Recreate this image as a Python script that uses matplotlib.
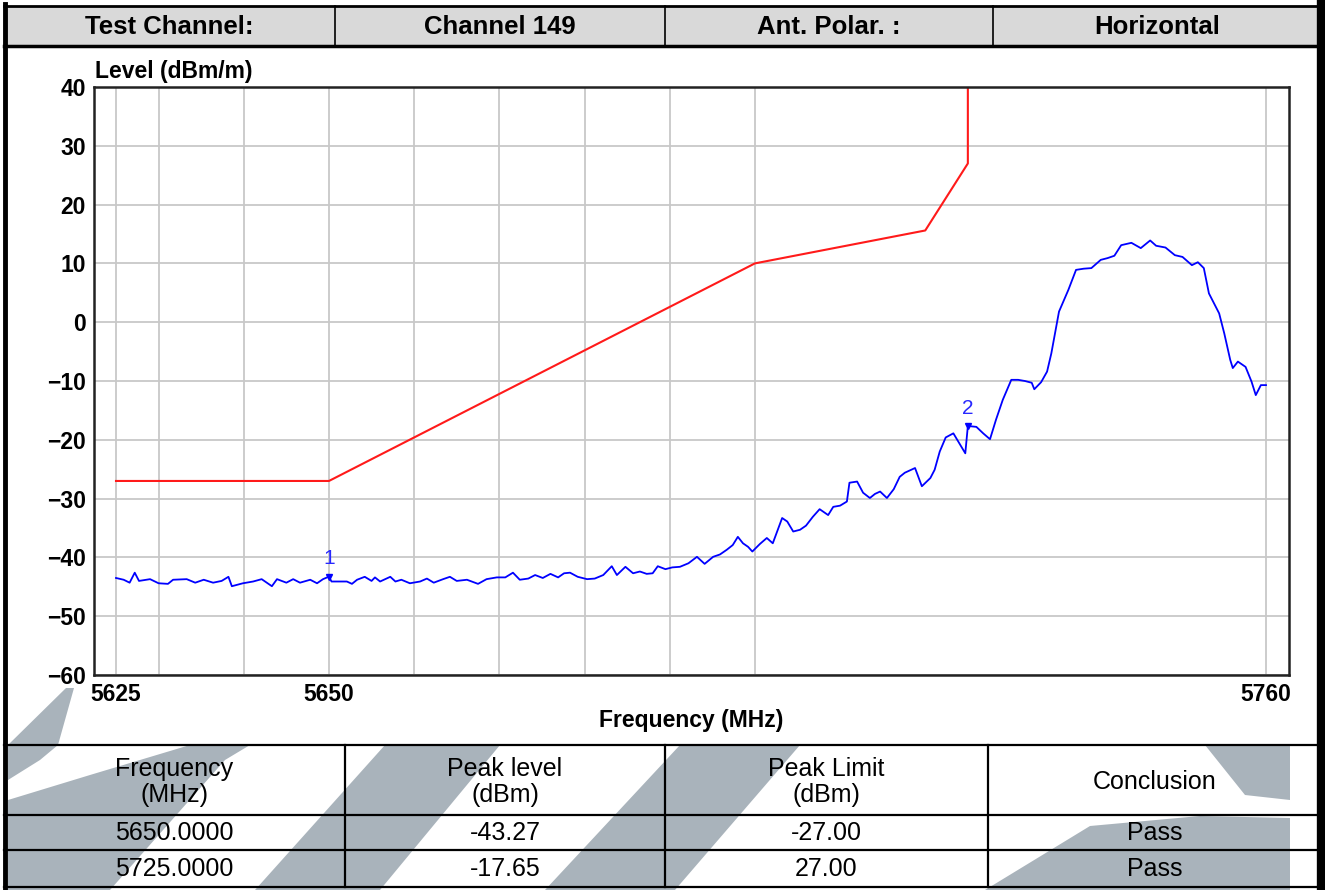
import matplotlib.pyplot as plt
from matplotlib.patches import Polygon, Rectangle

plt.rcParams['font.family'] = ['Liberation Sans', 'DejaVu Sans']

# header
header_cells = ['Test Channel:', 'Channel 149', 'Ant. Polar. :', 'Horizontal']

# limit line (dBm/m)
limit_freq = [5625, 5650, 5700, 5720, 5725, 5725]
limit_level = [-27, -27, 10, 15.6, 27, 40]

trace_freq = [5625.0, 5625.9, 5626.6, 5627.2, 5627.7, 5629.0, 5630.0, 5631.1, 5631.7, 5633.3,
              5634.3, 5635.3, 5636.4, 5637.4, 5638.2, 5638.6, 5639.9, 5641.1, 5642.1, 5643.3,
              5643.9, 5645.0, 5645.8, 5646.6, 5647.8, 5648.6, 5649.3, 5650.0, 5650.3, 5652.1,
              5652.7, 5653.3, 5654.2, 5655.0, 5655.4, 5656.0, 5657.2, 5657.8, 5658.5, 5659.5,
              5660.7, 5661.5, 5662.3, 5663.4, 5664.2, 5665.0, 5666.2, 5667.5, 5668.5, 5669.7,
              5670.7, 5671.6, 5672.4, 5673.4, 5674.2, 5675.1, 5676.0, 5676.9, 5677.6, 5678.3,
              5679.2, 5680.3, 5681.2, 5682.2, 5683.2, 5683.8, 5684.8, 5685.7, 5686.5, 5687.3,
              5688.0, 5688.6, 5689.5, 5690.3, 5691.2, 5692.2, 5693.2, 5694.1, 5695.1, 5695.9,
              5696.7, 5697.4, 5698.0, 5698.6, 5699.2, 5699.7, 5700.6, 5701.4, 5702.1, 5703.2,
              5703.8, 5704.5, 5705.3, 5706.0, 5706.8, 5707.6, 5708.6, 5709.2, 5710.0, 5710.8,
              5711.1, 5712.0, 5712.7, 5713.5, 5714.1, 5714.7, 5715.5, 5716.3, 5717.0, 5717.6,
              5718.8, 5719.6, 5720.6, 5721.1, 5721.7, 5722.4, 5723.3, 5724.0, 5724.7, 5725.0,
              5726.0, 5726.8, 5727.6, 5728.3, 5729.1, 5730.1, 5730.9, 5731.7, 5732.5, 5732.8,
              5733.6, 5734.3, 5734.8, 5735.7, 5736.8, 5737.7, 5738.6, 5739.5, 5740.6, 5741.4,
              5742.2, 5743.0, 5744.2, 5745.3, 5746.4, 5747.1, 5748.2, 5749.3, 5750.2, 5751.3,
              5752.0, 5752.7, 5753.3, 5754.5, 5755.1, 5755.8, 5756.1, 5756.7, 5757.6, 5758.3,
              5758.8, 5759.4, 5760.0]
trace_level = [-43.5, -43.8, -44.3, -42.6, -44.0, -43.7, -44.4, -44.5, -43.8, -43.7,
               -44.3, -43.8, -44.3, -44.0, -43.3, -44.9, -44.4, -44.1, -43.7, -44.9,
               -43.7, -44.3, -43.7, -44.3, -43.8, -44.4, -43.7, -43.27, -44.1, -44.1,
               -44.5, -43.8, -43.3, -44.0, -43.4, -44.1, -43.3, -44.1, -43.8, -44.4,
               -44.1, -43.6, -44.3, -43.7, -43.3, -44.0, -43.8, -44.5, -43.7, -43.4,
               -43.4, -42.6, -43.8, -43.6, -43.0, -43.5, -42.8, -43.4, -42.7, -42.6,
               -43.3, -43.7, -43.6, -43.0, -41.5, -43.0, -41.6, -42.7, -42.4, -42.8,
               -42.7, -41.5, -42.0, -41.7, -41.6, -41.0, -39.9, -41.1, -39.9, -39.5,
               -38.7, -37.9, -36.5, -37.6, -38.2, -39.0, -37.7, -36.7, -37.6, -33.3,
               -33.9, -35.6, -35.3, -34.6, -33.1, -31.8, -32.8, -31.4, -31.2, -30.5,
               -27.3, -27.1, -29.0, -29.9, -29.2, -28.8, -29.9, -28.4, -26.3, -25.6,
               -24.8, -27.9, -26.5, -25.1, -22.0, -19.6, -18.9, -20.6, -22.3, -17.65,
               -17.8, -18.9, -19.9, -16.6, -13.2, -9.8, -9.8, -10.0, -10.3, -11.4,
               -10.2, -8.4, -5.3, 1.8, 5.5, 8.9, 9.1, 9.2, 10.6, 10.9,
               11.3, 13.1, 13.5, 12.6, 13.9, 13.0, 12.7, 11.4, 11.1, 9.7,
               10.2, 9.2, 4.9, 1.5, -1.9, -6.4, -7.8, -6.7, -7.6, -10.1,
               -12.4, -10.7, -10.7]

marker_freq = [5650.0, 5725.0]
marker_level = [-43.27, -17.65]
marker_names = ['1', '2']

x_ticks = [5625, 5650, 5760]
x_grid = [5630, 5640, 5660, 5670, 5680, 5690, 5700]
y_ticks = [40, 30, 20, 10, 0, -10, -20, -30, -40, -50, -60]

table_head = ['Frequency\n(MHz)', 'Peak level\n(dBm)', 'Peak Limit\n(dBm)', 'Conclusion']
table_rows = [['5650.0000', '-43.27', '-27.00', 'Pass'],
              ['5725.0000', '-17.65', '27.00', 'Pass']]

W, H = 1325, 890
fig = plt.figure(figsize=(W / 100, H / 100), dpi=100)

# background layer in pixel coordinates
bg = fig.add_axes([0, 0, 1, 1])
bg.set_xlim(0, W)
bg.set_ylim(H, 0)
bg.axis('off')

# watermark stripes
wm = '#a9b3bb'
stripes = [
    [(8, 745), (8, 780), (40, 760), (58, 745), (74, 688), (66, 688)],
    [(8, 800), (8, 890), (110, 890), (225, 760), (250, 745), (190, 745), (90, 775)],
    [(255, 890), (380, 890), (500, 745), (385, 745)],
    [(545, 890), (675, 890), (800, 745), (680, 745)],
    [(985, 890), (1290, 890), (1290, 818), (1200, 816), (1090, 826)],
    [(1205, 745), (1290, 745), (1290, 800), (1245, 795)],
]
for s in stripes:
    bg.add_patch(Polygon(s, closed=True, facecolor=wm, edgecolor='none', zorder=1))

# header row
col_edges_top = [4, 335, 665, 993, 1321]
bg.add_patch(Rectangle((4, 6), 1317, 40, facecolor='#d9d9d9', edgecolor='none', zorder=1))
for i, t in enumerate(header_cells):
    cx = (col_edges_top[i] + col_edges_top[i + 1]) / 2
    bg.text(cx, 27, t, ha='center', va='center', fontsize=18.5, fontweight='bold', zorder=5)
for x in col_edges_top[1:-1]:
    bg.plot([x, x], [6, 46], color='black', lw=1.2, zorder=4)
bg.plot([4, 1321], [6, 6], color='black', lw=2, zorder=4)
bg.plot([4, 1321], [46, 46], color='black', lw=2.5, zorder=4)

# bottom table
col_edges = [4, 345, 665, 988, 1321]
row_edges = [745, 815, 850, 887]
for y in row_edges:
    bg.plot([4, 1321], [y, y], color='black', lw=1.6, zorder=4)
for x in col_edges[1:-1]:
    bg.plot([x, x], [745, 887], color='black', lw=1.6, zorder=4)
for i, t in enumerate(table_head):
    cx = (col_edges[i] + col_edges[i + 1]) / 2
    bg.text(cx, 782, t, ha='center', va='center', fontsize=18, linespacing=1.12, zorder=5)
for r, row in enumerate(table_rows):
    cy = (row_edges[r + 1] + row_edges[r + 2]) / 2
    for i, t in enumerate(row):
        cx = (col_edges[i] + col_edges[i + 1]) / 2
        bg.text(cx, cy + 1, t, ha='center', va='center', fontsize=18, zorder=5)

# outer border
bg.plot([5, 5], [4, 889], color='black', lw=3.5, zorder=6)
bg.plot([1321, 1321], [4, 889], color='black', lw=6, zorder=6)

# chart labels
bg.text(95, 78, 'Level (dBm/m)', ha='left', va='baseline', fontsize=16.5, fontweight='bold', zorder=5)
bg.text(691, 720, 'Frequency (MHz)', ha='center', va='center', fontsize=16.5, fontweight='bold', zorder=5)

# the chart
ax = fig.add_axes([94 / W, 1 - 675 / H, (1289 - 94) / W, (675 - 87) / H])
ax.set_zorder(2)
ax.set_xlim(5625 - 22 / 8.519, 5760 + 23 / 8.519)
ax.set_ylim(-60, 40)
ax.set_xticks(x_ticks)
ax.set_xticks(x_grid, minor=True)
ax.set_yticks(y_ticks)
ax.tick_params(which='both', length=0)
ax.tick_params(axis='y', pad=6, labelsize=16.5)
ax.tick_params(axis='x', pad=6, labelsize=16.5)
for lab in ax.get_xticklabels() + ax.get_yticklabels():
    lab.set_fontweight('bold')
ax.grid(which='both', color='#c8c8c8', lw=1.3)
ax.set_axisbelow(True)
for sp in ax.spines.values():
    sp.set_color('#222222')
    sp.set_linewidth(1.8)

ax.plot(limit_freq, limit_level, color='#ff1a1a', lw=1.5)
ax.plot(trace_freq, trace_level, color='#0000ff', lw=1.3)
ax.plot(marker_freq, marker_level, 'v', color='#0000ff', ms=5)
for f, v, n in zip(marker_freq, marker_level, marker_names):
    ax.annotate(n, (f, v), xytext=(0, 6), textcoords='offset points', ha='center', va='bottom',
                color='#2828ff', fontsize=15)

fig.savefig('out.png', dpi=100)
